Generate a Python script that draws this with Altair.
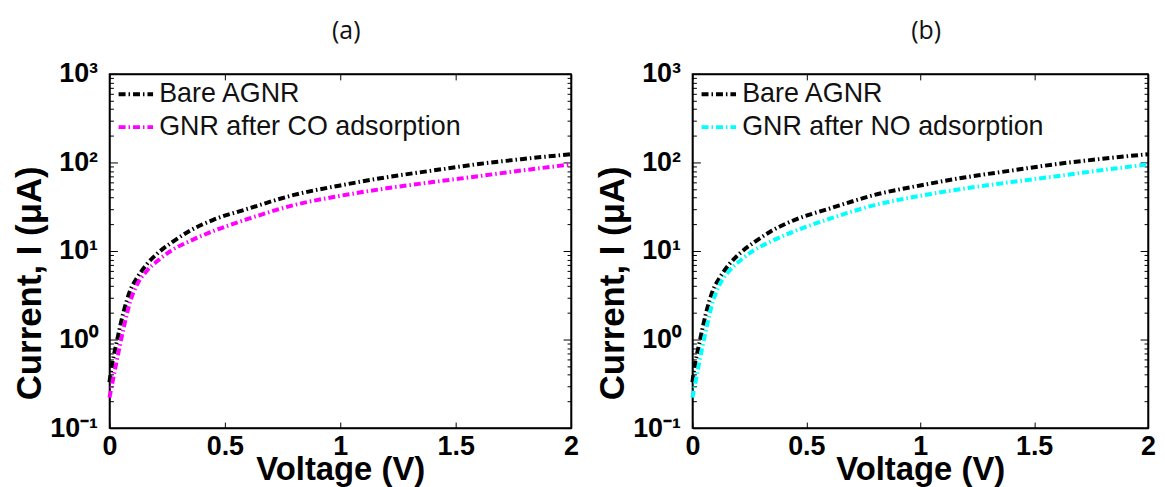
import altair as alt
import pandas as pd

voltage = [0, 0.01, 0.03, 0.06, 0.09, 0.12, 0.16, 0.21, 0.27, 0.35, 0.45, 0.6, 0.8, 1.0, 1.2, 1.4, 1.6, 1.8, 2.0]
bare_agnr = [0.33, 0.5, 0.9, 2.0, 3.6, 5.0, 7.0, 9.5, 12.5, 17, 22.5, 30, 43, 55, 68, 81, 96, 110, 124]
co_adsorbed = [0.22, 0.3, 0.55, 1.3, 2.7, 4.2, 5.9, 7.8, 10.2, 13.0, 16.8, 23, 33, 42, 51, 60, 70, 82, 95]
no_adsorbed = [0.22, 0.3, 0.55, 1.3, 2.7, 4.2, 5.9, 7.8, 10.2, 13.0, 16.8, 23, 33, 42, 51, 60, 70, 82, 95]

x_ticks = [0, 0.5, 1, 1.5, 2]
y_ticks = [m * 10.0 ** e for e in (-1, 0, 1, 2) for m in range(1, 10)] + [1000.0]

DASH = [7, 3, 1.5, 3]
FONT = "Liberation Sans"
major_test = "abs(log(datum.value)/LN10 - round(log(datum.value)/LN10)) < 0.001"
y_label_expr = (
    "datum.value == 1000 ? '10³' : datum.value == 100 ? '10²' : "
    "datum.value == 10 ? '10¹' : datum.value == 1 ? '10⁰' : "
    "abs(datum.value - 0.1) < 1e-9 ? '10⁻¹' : ''"
)


def panel(title, gas_label, gas_values, gas_color, width):
    labels = ["Bare AGNR"] * len(voltage) + [gas_label] * len(voltage)
    df = pd.DataFrame({
        "V": voltage + voltage,
        "I": bare_agnr + gas_values,
        "series": labels,
    })
    color = alt.Color(
        "series:N",
        scale=alt.Scale(domain=["Bare AGNR", gas_label], range=["#000000", gas_color]),
        legend=alt.Legend(
            title=None, orient="none", legendX=7, legendY=1, padding=0,
            symbolType="stroke", symbolSize=1200, symbolStrokeWidth=4,
            symbolDash=DASH, labelFont=FONT, labelFontSize=27,
            labelColor="#111", rowPadding=-10, labelLimit=500, labelOffset=4,
        ),
    )
    x_main = alt.X(
        "V:Q",
        scale=alt.Scale(domain=[0, 2], nice=False),
        axis=alt.Axis(
            values=x_ticks, format="~g", title="Voltage (V)", orient="bottom",
            tickSize=alt.ExprRef("-6"), labelPadding=12, tickColor="black",
            domainColor="black", domainWidth=1.5, grid=False,
            labelFont=FONT, labelFontWeight="bold", labelFontSize=27,
            labelColor="black", titleFont=FONT, titleFontWeight="bold",
            titleFontSize=33, titleColor="black", titlePadding=-6,
            labelFlush=False,
        ),
    )
    y_main = alt.Y(
        "I:Q",
        scale=alt.Scale(type="log", domain=[0.1, 1000], nice=False),
        axis=alt.Axis(
            values=y_ticks, labelExpr=y_label_expr, title="Current, I (μA)",
            orient="left",
            tickSize=alt.ExprRef(major_test + " ? -8 : -4"), labelPadding=20,
            tickColor="black", domainColor="black", domainWidth=1.5, grid=False,
            labelFont=FONT, labelFontWeight="bold", labelFontSize=27,
            labelColor="black", titleFont=FONT, titleFontWeight="bold",
            titleFontSize=35, titleColor="black", titlePadding=2, titleY=210,
            labelFlush=False, labelOverlap=False,
        ),
    )
    lines = alt.Chart(df).mark_line(
        strokeWidth=4, strokeDash=DASH, interpolate="monotone"
    ).encode(x=x_main, y=y_main, color=color, detail="series:N")

    x_top = alt.X(
        "V:Q", scale=alt.Scale(domain=[0, 2], nice=False),
        axis=alt.Axis(values=x_ticks, orient="top", labels=False, title=None,
                      tickSize=alt.ExprRef("-6"), tickColor="black",
                      domainColor="black", domainWidth=1.5, grid=False),
    )
    y_right = alt.Y(
        "I:Q", scale=alt.Scale(type="log", domain=[0.1, 1000], nice=False),
        axis=alt.Axis(values=y_ticks, orient="right", labels=False, title=None,
                      tickSize=alt.ExprRef(major_test + " ? -8 : -4"),
                      tickColor="black", domainColor="black", domainWidth=1.5,
                      grid=False),
    )
    box = alt.Chart(df).mark_line(opacity=0).encode(x=x_top, y=y_right, detail="series:N")

    return alt.layer(lines, box).resolve_axis(x="independent", y="independent").properties(
        width=width, height=356,
        title=alt.TitleParams(title, font="Open Sans", fontSize=25, fontWeight="normal",
                              color="#111", anchor="middle", offset=16, dx=6),
    )


pa = panel("(a)", "GNR after CO adsorption", co_adsorbed, "#FF00FF", 464)
pb = panel("(b)", "GNR after NO adsorption", no_adsorbed, "#00FFFF", 458)

chart = alt.hconcat(pa, pb, spacing=15).resolve_scale(color="independent").configure(
    padding={"left": 4, "top": 9, "right": 0, "bottom": 0},
).configure_view(stroke="black", strokeWidth=1.5)

chart.save("out.html", embed_options={"renderer": "svg", "actions": False})
